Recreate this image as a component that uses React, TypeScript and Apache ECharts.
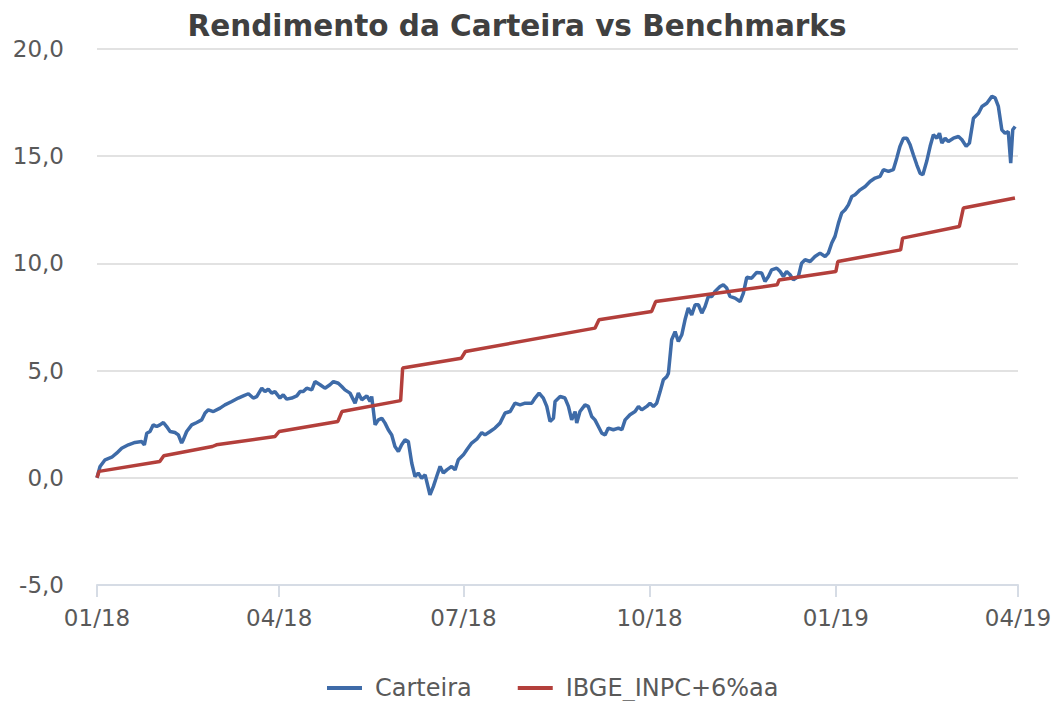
import React, { useEffect, useRef } from "react";
import * as echarts from "echarts";

const TITLE = "Rendimento da Carteira vs Benchmarks";
const SERIES_NAMES = ["Carteira", "IBGE_INPC+6%aa"];

// x = days since 01/01/2018
const xTickDays = [0, 90, 181, 273, 365, 455];
const xTickLabels = ["01/18", "04/18", "07/18", "10/18", "01/19", "04/19"];

const carteiraDays = [
  0, 1.5, 4, 7.3, 9.7, 12.2, 15.5, 18.8, 22.1, 23.4,
  24.6, 26.2, 27.8, 29.5, 31.1, 32.8, 34.4, 36.1, 38.5, 40.2,
  41.8, 42.6, 44.3, 46.8, 49.3, 51.7, 53.4, 55, 57.5, 60.8,
  63.2, 66.6, 69.8, 72.3, 74.8, 77.2, 78.9, 81.4, 83, 84.6,
  86.3, 87.9, 90.4, 92, 93.7, 96.2, 98.7, 100.3, 101.9, 103.6,
  106.1, 107.7, 110.2, 112.6, 115.1, 116.8, 119.2, 120.9, 122.5, 125,
  127.5, 129.1, 130.8, 133.3, 134.9, 135.7, 137.4, 139, 140.7, 142.3,
  143.9, 145.6, 147.2, 148.9, 150.5, 152.2, 153.8, 155.5, 157.1, 158.7,
  160.4, 162.1, 164.5, 166.2, 167.8, 169.5, 171.1, 172.8, 175.2, 176.9,
  178.5, 181, 182.7, 185.1, 187.6, 190.1, 191.7, 194.2, 196.6, 199.1,
  201.6, 204.1, 206.5, 209, 211.5, 214.8, 216.4, 218.4, 220.5, 222.2,
  223.8, 225.5, 226.3, 228.8, 231.2, 232.9, 234.5, 236.2, 237, 238.6,
  241.1, 242.7, 244.4, 246, 247.7, 249.4, 251, 252.6, 255.1, 257.6,
  259.3, 260.9, 263.3, 265.8, 267.5, 269.1, 271.6, 273.2, 274.9, 276.5,
  278.2, 279.8, 281.5, 282.3, 283.9, 285.6, 287.2, 288.9, 290.5, 292.1,
  293.8, 295.5, 297.1, 298.8, 300.4, 302, 303.7, 305.3, 307.8, 309.4,
  311.1, 312.7, 315.2, 317.7, 319.3, 321, 323.4, 325.9, 328.4, 330,
  331.7, 333.3, 335.8, 337.5, 339.1, 340.7, 342.4, 344, 346.5, 348.1,
  349.8, 352.3, 354.7, 357.2, 359.7, 361.3, 363, 364.6, 366.3, 367.9,
  369.6, 371.2, 372.9, 374.5, 377, 379.5, 381.9, 384.4, 386.9, 388.5,
  391, 393.4, 395.1, 396.7, 398.4, 400.1, 401.7, 403.3, 405, 406.6,
  408, 409.9, 411.6, 413.2, 414.9, 416.2, 417.4, 419, 420.6, 423.1,
  425.6, 427.3, 429.4, 431, 433, 435.5, 437.2, 439.6, 442.1, 443.7,
  445.3, 447, 448.6, 450.2, 451.4, 452.4, 453.6,
];

const carteiraValues = [
  0.0, 0.53, 0.84, 0.96, 1.15, 1.38, 1.54, 1.65, 1.69, 1.54,
  2.08, 2.16, 2.47, 2.39, 2.47, 2.58, 2.39, 2.16, 2.11, 2.0,
  1.62, 1.77, 2.16, 2.47, 2.58, 2.7, 3.02, 3.17, 3.09, 3.25,
  3.4, 3.56, 3.72, 3.82, 3.92, 3.72, 3.79, 4.18, 4.02, 4.14,
  3.95, 4.02, 3.72, 3.87, 3.67, 3.72, 3.82, 4.02, 4.02, 4.18,
  4.1, 4.49, 4.34, 4.18, 4.34, 4.49, 4.41, 4.26, 4.1, 3.95,
  3.48, 3.95, 3.64, 3.82, 3.56, 3.79, 2.47, 2.7, 2.78, 2.55,
  2.24, 2.0, 1.46, 1.23, 1.54, 1.77, 1.69, 0.68, 0.06, 0.22,
  -0.02, 0.14, -0.79, -0.4, 0.06, 0.53, 0.22, 0.37, 0.53, 0.37,
  0.84, 1.07, 1.31, 1.62, 1.8, 2.11, 2.0, 2.16, 2.32, 2.55,
  3.02, 3.09, 3.48, 3.4, 3.48, 3.48, 3.72, 3.95, 3.72, 3.33,
  2.63, 2.78, 3.56, 3.79, 3.72, 3.33, 2.7, 3.09, 2.55, 3.09,
  3.4, 3.33, 2.86, 2.7, 2.39, 2.08, 2.0, 2.32, 2.24, 2.32,
  2.24, 2.7, 2.94, 3.09, 3.33, 3.17, 3.33, 3.48, 3.33, 3.48,
  4.02, 4.57, 4.72, 4.88, 6.44, 6.82, 6.36, 6.67, 7.37, 7.92,
  7.6, 8.07, 8.07, 7.68, 7.99, 8.46, 8.46, 8.69, 8.92, 9.0,
  8.85, 8.46, 8.38, 8.22, 8.6, 9.35, 9.31, 9.58, 9.55, 9.16,
  9.39, 9.7, 9.78, 9.62, 9.39, 9.62, 9.47, 9.23, 9.39, 10.01,
  10.17, 10.09, 10.32, 10.48, 10.32, 10.48, 10.95, 11.26, 11.88, 12.35,
  12.5, 12.73, 13.12, 13.2, 13.43, 13.59, 13.82, 13.98, 14.06, 14.37,
  14.29, 14.37, 14.91, 15.46, 15.84, 15.84, 15.53, 15.07, 14.6, 14.21,
  14.13, 14.76, 15.46, 16.0, 15.84, 16.07, 15.61, 15.84, 15.69, 15.84,
  15.92, 15.77, 15.46, 15.61, 16.77, 17.0, 17.32, 17.47, 17.79, 17.72,
  17.32, 16.23, 16.07, 16.15, 14.68, 16.23, 16.39,
];

const inpcDays = [
  0, 1, 31, 33, 57, 59, 88, 90, 119, 121, 150, 151, 180, 182,
  246, 248, 274, 276, 336, 337, 365, 366, 397, 398, 426, 428, 453.5,
];
const inpcValues = [
  0, 0.3, 0.76, 1.03, 1.46, 1.54, 1.93, 2.16, 2.63, 3.09, 3.6, 5.12, 5.58, 5.89,
  6.98, 7.37, 7.76, 8.22, 9.0, 9.23, 9.62, 10.09, 10.63, 11.18, 11.72, 12.58, 13.05,
];

const FONT = "DejaVu Sans";
const LABEL_COLOR = "#595959";

export default function App() {
  const ref = useRef<HTMLDivElement>(null);

  useEffect(() => {
    if (!ref.current) return;
    const chart = echarts.init(ref.current, undefined, { renderer: "svg" });
    const option = {
      animation: false,
      backgroundColor: "#ffffff",
      title: {
        text: TITLE,
        left: 512,
        top: 6,
        textAlign: "center",
        textStyle: {
          fontFamily: FONT,
          fontSize: 29.5,
          fontWeight: "bold",
          color: "#404040",
        },
      },
      legend: {
        data: SERIES_NAMES,
        left: 322,
        top: 668,
        icon: "rect",
        itemWidth: 35,
        itemHeight: 4,
        itemGap: 46,
        textStyle: {
          fontFamily: FONT,
          fontSize: 24,
          lineHeight: 30,
          color: LABEL_COLOR,
          padding: [0, 0, 0, 8],
        },
      },
      grid: { left: 97, right: 45, top: 49, bottom: 116, containLabel: false },
      xAxis: {
        type: "value",
        min: 0,
        max: 455,
        splitLine: { show: false },
        axisLine: { show: true, onZero: false, lineStyle: { color: "#D6DCE5", width: 2 } },
        axisTick: {
          show: true,
          customValues: xTickDays,
          length: 12,
          lineStyle: { color: "#D6DCE5", width: 2 },
        },
        axisLabel: {
          customValues: xTickDays,
          formatter: (v: number) => {
            const i = xTickDays.indexOf(v);
            return i >= 0 ? xTickLabels[i] : "";
          },
          margin: 21,
          fontFamily: FONT,
          fontSize: 23,
          color: LABEL_COLOR,
        },
      },
      yAxis: {
        type: "value",
        min: -5,
        max: 20,
        interval: 5,
        axisLine: { show: false },
        axisTick: { show: false },
        splitLine: { show: true, lineStyle: { color: "#D9D9D9", width: 1.5 } },
        axisLabel: {
          formatter: (v: number) => v.toFixed(1).replace(".", ","),
          margin: 33,
          fontFamily: FONT,
          fontSize: 23,
          color: LABEL_COLOR,
        },
      },
      series: [
        {
          name: SERIES_NAMES[0],
          type: "line",
          showSymbol: false,
          symbol: "none",
          data: carteiraDays.map((d, i) => [d, carteiraValues[i]]),
          lineStyle: { color: "#3E6BA8", width: 3.5 },
          itemStyle: { color: "#3E6BA8" },
        },
        {
          name: SERIES_NAMES[1],
          type: "line",
          showSymbol: false,
          symbol: "none",
          data: inpcDays.map((d, i) => [d, inpcValues[i]]),
          lineStyle: { color: "#B33F3B", width: 3.5 },
          itemStyle: { color: "#B33F3B" },
        },
      ],
    };
    chart.setOption(option as any);
    return () => chart.dispose();
  }, []);

  return (
    <div
      ref={ref}
      style={{ position: "fixed", left: 0, top: 0, width: 1063, height: 701, background: "#fff" }}
    />
  );
}
